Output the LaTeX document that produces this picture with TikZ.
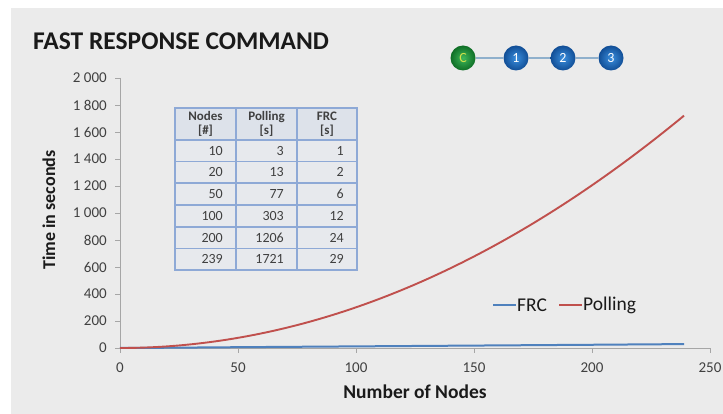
\documentclass[tikz,border=0pt]{standalone}
\usepackage{fontspec}
\setmainfont{Carlito}
\definecolor{pagegray}{HTML}{EBEBEB}
\definecolor{axisgray}{HTML}{A6A6A6}
\definecolor{inkgray}{HTML}{404040}
\definecolor{titleink}{HTML}{1A1A1A}
\definecolor{pollred}{HTML}{C0504D}
\definecolor{frcblue}{HTML}{4F81BD}
\definecolor{gridblue}{HTML}{8EA9D6}
\definecolor{headfill}{HTML}{DDE2EA}
\definecolor{cellfill}{HTML}{E7E9ED}
\definecolor{linkblue}{HTML}{8FB0CC}
\definecolor{greenhi}{HTML}{3DB85A}
\definecolor{greenlo}{HTML}{0F6E26}
\definecolor{bluehi}{HTML}{3A8EDD}
\definecolor{bluelo}{HTML}{114E96}
\definecolor{cletter}{HTML}{CFE04A}
\begin{document}
\begin{tikzpicture}[x=1pt,y=-1pt,
  ticklabel/.style={font=\fontsize{15}{15}\selectfont, text=inkgray, inner sep=0pt},
  axtitle/.style={font=\bfseries\fontsize{19.5}{19.5}\selectfont, text=titleink, inner sep=0pt},
  cellbox/.style={draw=gridblue, line width=1.1pt},
  celltext/.style={font=\fontsize{14}{14}\selectfont, text=inkgray, inner sep=0pt, anchor=east},
  headtext/.style={font=\bfseries\fontsize{13}{14.5}\selectfont, text=inkgray, inner sep=0pt, align=center},
  ball/.style={circle, minimum size=25pt, inner sep=0pt, font=\fontsize{14}{14}\selectfont},
  greenball/.style={ball, shade, inner color=greenhi, outer color=greenlo, text=cletter},
  blueball/.style={ball, shade, inner color=bluehi, outer color=bluelo, text=white},
  legendtext/.style={font=\fontsize{19.5}{19.5}\selectfont, text=titleink, inner sep=0pt, anchor=west}]
\useasboundingbox (0,0) rectangle (723,414);
\fill[white] (0,0) rectangle (723,414);
\fill[pagegray] (11,8) rectangle (723,414);

% title
\node[anchor=base west, inner sep=0pt, font=\bfseries\fontsize{25.5}{25.5}\selectfont, text=titleink] (title) at (33,50) {FAST RESPONSE COMMAND};

% chain of nodes: controller and three devices
\node[greenball] (nc) at (463,58) {C};
\node[blueball] (n1) at (516,58) {1};
\node[blueball] (n2) at (563,58) {2};
\node[blueball] (n3) at (611,58) {3};
\draw[linkblue, line width=1.3pt] (nc) -- (n1);
\draw[linkblue, line width=1.3pt] (n1) -- (n2);
\draw[linkblue, line width=1.3pt] (n2) -- (n3);

% axes
\draw[axisgray, line width=0.9pt] (120,78) -- (120,348) -- (710,348);
\foreach \v in {0,200,...,2000} {
  \pgfmathsetmacro{\yy}{348-0.135*\v}
  \draw[axisgray, line width=0.9pt] (115,\yy) -- (120,\yy);
}
\foreach \v/\lab in {0/0,200/200,400/400,600/600,800/800,1000/1 000,1200/1 200,1400/1 400,1600/1 600,1800/1 800,2000/2 000} {
  \pgfmathsetmacro{\yy}{348-0.135*\v}
  \node[ticklabel, anchor=east] (yl\v) at (107,\yy) {\lab};
}
\foreach \v in {0,50,...,250} {
  \pgfmathsetmacro{\xx}{120+2.36*\v}
  \draw[axisgray, line width=0.9pt] (\xx,348) -- (\xx,353);
  \node[ticklabel] (xl\v) at (\xx,368) {\v};
}
\node[axtitle] (xtitle) at (415,392) {Number of Nodes};
\node[axtitle, font=\bfseries\fontsize{18}{18}\selectfont, rotate=90] (ytitle) at (49,210) {Time in seconds};

% data series
\begin{scope}[shift={(120,348)}, x=2.36pt, y=0.135pt]
  \draw[frcblue, line width=2pt] (0,0) -- (10,1) -- (20,2) -- (50,6) -- (100,12) -- (200,24) -- (239,29);
  \draw[pollred, line width=1.9pt] plot[domain=0:239, samples=80, smooth] (\x, {0.030129*\x*\x});
\end{scope}

% legend
\draw[frcblue, line width=1.9pt] (493,305) -- (516,305);
\node[legendtext] (lfrc) at (517,305) {FRC};
\draw[pollred, line width=1.9pt] (559,305) -- (582,305);
\node[legendtext] (lpoll) at (583,305) {Polling};

% data table
\fill[headfill] (175,108) rectangle (357,140);
\fill[cellfill] (175,140) rectangle (357,270);
\foreach \ya/\yb in {108/140,140/161.5,161.5/183,183/205,205/227,227/248.5,248.5/270} {
  \draw[cellbox] (175,\ya) rectangle (236,\yb);
  \draw[cellbox] (236,\ya) rectangle (297,\yb);
  \draw[cellbox] (297,\ya) rectangle (357,\yb);
}
\node[headtext] (h1) at (205.5,124) {Nodes\\{[\#]}};
\node[headtext] (h2) at (266.5,124) {Polling\\{[s]}};
\node[headtext] (h3) at (327,124) {FRC\\{[s]}};
\foreach \i/\n/\p/\f/\yc in {1/10/3/1/150.8, 2/20/13/2/172.3, 3/50/77/6/194, 4/100/303/12/216, 5/200/1206/24/237.8, 6/239/1721/29/259.3} {
  \node[celltext] (tn\i) at (223,\yc) {\n};
  \node[celltext] (tp\i) at (284,\yc) {\p};
  \node[celltext] (tf\i) at (344,\yc) {\f};
}
\end{tikzpicture}
\end{document}
